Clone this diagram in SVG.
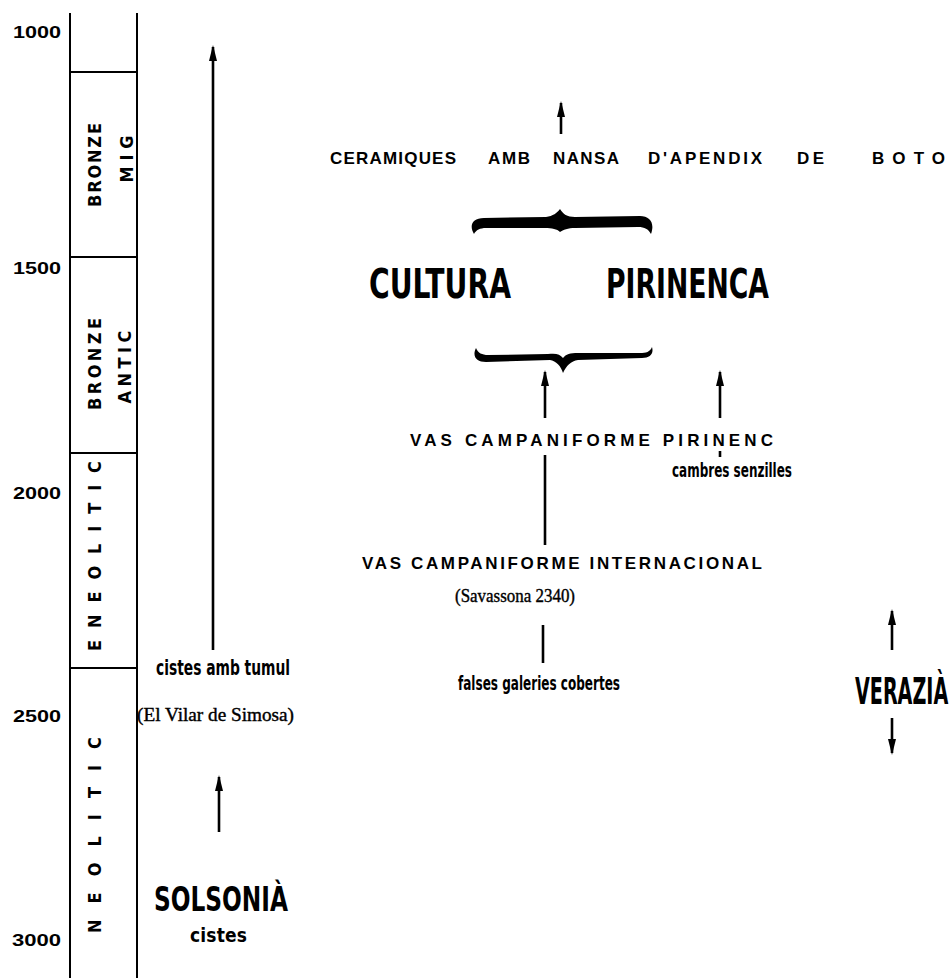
<svg xmlns="http://www.w3.org/2000/svg" width="949" height="978" viewBox="0 0 949 978">
<style>
.bg{fill:#fff}
.ln{stroke:#000;stroke-width:2;fill:none}
.ar{stroke:#000;stroke-width:2.6;fill:none}
.yr{font-family:"Liberation Sans",Arial,sans-serif;font-weight:bold;font-size:16px;fill:#000}
.per{font-family:"Liberation Sans Narrow","DejaVu Sans Condensed","Liberation Sans",sans-serif;font-weight:bold;font-size:18px;fill:#000}
.cap{font-family:"Liberation Sans",Arial,sans-serif;font-weight:bold;font-size:17px;fill:#000}
.nar{font-family:"Liberation Sans Narrow","DejaVu Sans Condensed","Liberation Sans",sans-serif;font-weight:bold;fill:#000}
.ser{font-family:"Liberation Serif","DejaVu Serif",serif;font-size:19px;fill:#000;stroke:#000;stroke-width:0.4}
</style>
<defs>
<marker id="ah" viewBox="0 0 16 8" refX="14" refY="4" markerWidth="16" markerHeight="8" markerUnits="userSpaceOnUse" orient="auto">
<path d="M0,0 L16,4 L0,8 Z" fill="#000"/>
</marker>
</defs>
<rect class="bg" x="0" y="0" width="949" height="978"/>

<g id="timescale">
<line class="ln" x1="70" y1="13" x2="70" y2="978"/>
<line class="ln" x1="137" y1="13" x2="137" y2="978"/>
<line class="ln" x1="70" y1="72" x2="137" y2="72"/>
<line class="ln" x1="70" y1="257" x2="137" y2="257"/>
<line class="ln" x1="70" y1="453" x2="137" y2="453"/>
<line class="ln" x1="70" y1="668" x2="137" y2="668"/>
<text class="yr" x="13" y="38" textLength="48" lengthAdjust="spacingAndGlyphs">1000</text>
<text class="yr" x="13" y="274" textLength="48" lengthAdjust="spacingAndGlyphs">1500</text>
<text class="yr" x="13" y="499" textLength="48" lengthAdjust="spacingAndGlyphs">2000</text>
<text class="yr" x="13" y="722" textLength="48" lengthAdjust="spacingAndGlyphs">2500</text>
<text class="yr" x="12" y="946" textLength="49" lengthAdjust="spacingAndGlyphs">3000</text>
</g>

<g id="bronze-mig">
<text class="per" transform="translate(101,165) rotate(-90)" text-anchor="middle" textLength="84" lengthAdjust="spacing">BRONZE</text>
<text class="per" transform="translate(133,159) rotate(-90)" text-anchor="middle" textLength="47" lengthAdjust="spacing">MIG</text>
</g>
<g id="bronze-antic">
<text class="per" transform="translate(101,364) rotate(-90)" text-anchor="middle" textLength="92" lengthAdjust="spacing">BRONZE</text>
<text class="per" transform="translate(131,367) rotate(-90)" text-anchor="middle" textLength="73" lengthAdjust="spacing">ANTIC</text>
</g>
<g id="eneolitic">
<text class="per" transform="translate(101,556) rotate(-90)" text-anchor="middle" textLength="190" lengthAdjust="spacing">ENEOLITIC</text>
</g>
<g id="neolitic">
<text class="per" transform="translate(101,835) rotate(-90)" text-anchor="middle" textLength="196" lengthAdjust="spacing">NEOLITIC</text>
</g>

<g id="cistes-tumul">
<text class="nar" x="156" y="675" font-size="21" textLength="134" lengthAdjust="spacingAndGlyphs">cistes amb tumul</text>
<text class="ser" x="137" y="721" textLength="157" lengthAdjust="spacingAndGlyphs">(El Vilar de Simosa)</text>
</g>
<g id="solsonia">
<text class="nar" x="154" y="911" font-size="34" textLength="134" lengthAdjust="spacingAndGlyphs">SOLSONIÀ</text>
<text class="nar" x="190" y="942" font-size="19" textLength="57" lengthAdjust="spacing">cistes</text>
</g>

<g id="ceramiques">
<text class="cap" x="330" y="164" textLength="126" lengthAdjust="spacing">CERAMIQUES</text>
<text class="cap" x="488" y="164" textLength="42" lengthAdjust="spacing">AMB</text>
<text class="cap" x="553" y="164" textLength="66" lengthAdjust="spacing">NANSA</text>
<text class="cap" x="648" y="164" textLength="114" lengthAdjust="spacing">D'APENDIX</text>
<text class="cap" x="797" y="164" textLength="27" lengthAdjust="spacing">DE</text>
<text class="cap" x="872" y="164" textLength="73" lengthAdjust="spacing">BOTO</text>
</g>

<g id="brace-top">
<path fill="#000" d="M474,234 C469,226 472,218 484,218 L546,217 C553,216 557,213 560,209 C563,214 567,217 575,217 L640,216 C650,216 655,223 651,234 C648,229 645,227 638,227 L575,228 C568,228 563,230 560,232 C557,229 552,228 545,228 L486,228 C480,228 476,230 474,234 Z"/>
</g>

<g id="cultura-pirinenca">
<text class="nar" x="369" y="298" font-size="40" textLength="142" lengthAdjust="spacingAndGlyphs">CULTURA</text>
<text class="nar" x="606" y="298" font-size="40" textLength="163" lengthAdjust="spacingAndGlyphs">PIRINENCA</text>
</g>

<g id="brace-bottom">
<path fill="#000" d="M476,348 C472,356 476,362 486,362 L550,360 C556,361 561,366 563,373 C566,366 571,361 578,360 L642,358 C650,358 654,354 652,347 C650,352 646,353 640,353 L578,353 C570,353 566,354 563,358 C560,354 556,353 548,354 L488,355 C482,355 478,353 476,348 Z"/>
</g>

<g id="vas-pirinenc">
<text class="cap" x="410" y="446" textLength="363" lengthAdjust="spacing">VAS  CAMPANIFORME  PIRINENC</text>
<text class="nar" x="672" y="477" font-size="20" textLength="120" lengthAdjust="spacingAndGlyphs">cambres senzilles</text>
</g>

<g id="vas-internacional">
<text class="cap" x="362" y="569" textLength="400" lengthAdjust="spacing">VAS  CAMPANIFORME  INTERNACIONAL</text>
<text class="ser" x="455" y="602" textLength="120" lengthAdjust="spacingAndGlyphs">(Savassona 2340)</text>
</g>

<g id="falses-galeries">
<text class="nar" x="458" y="690" font-size="20" textLength="162" lengthAdjust="spacingAndGlyphs">falses galeries cobertes</text>
</g>

<g id="verazia">
<text class="nar" transform="translate(855,704) scale(0.56,1)" x="0" y="0" font-size="38">VERAZIÀ</text>
</g>

<g id="connectors">
<line class="ar" x1="213" y1="650" x2="213" y2="47" marker-end="url(#ah)"/>
<line class="ar" x1="219" y1="832" x2="219" y2="777" marker-end="url(#ah)"/>
<line class="ar" x1="561" y1="134" x2="561" y2="103" marker-end="url(#ah)"/>
<line class="ar" x1="545" y1="418" x2="545" y2="372" marker-end="url(#ah)"/>
<line class="ar" x1="720" y1="418" x2="720" y2="372" marker-end="url(#ah)"/>
<line class="ar" x1="545" y1="455" x2="545" y2="545" stroke-width="3"/>
<line class="ar" x1="720" y1="451" x2="720" y2="457" stroke-width="3"/>
<line class="ar" x1="543" y1="625" x2="543" y2="663" stroke-width="3"/>
<line class="ar" x1="892" y1="650" x2="892" y2="611" marker-end="url(#ah)"/>
<line class="ar" x1="892" y1="718" x2="892" y2="753" marker-end="url(#ah)"/>
</g>
</svg>
